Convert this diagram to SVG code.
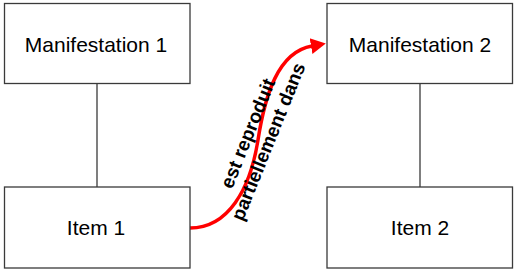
<svg xmlns="http://www.w3.org/2000/svg" width="516" height="273" viewBox="0 0 516 273">
<style>
.box{fill:#fff;stroke:#3a3a3a;stroke-width:1.3}
.lbl{font-family:"Liberation Sans",Arial,sans-serif;font-size:21px;fill:#000;text-anchor:middle}
.ln{stroke:#3a3a3a;stroke-width:1.3;fill:none}
.rel{stroke:#ff0000;stroke-width:3.5;fill:none}
.rl{font-family:"Liberation Sans",Arial,sans-serif;font-size:19px;font-weight:bold;fill:#000;text-anchor:middle}
</style>
<defs>
<marker id="ah" markerUnits="userSpaceOnUse" markerWidth="16" markerHeight="18" refX="1" refY="8" orient="auto" viewBox="0 0 16 16">
<path d="M0,0 L15,8 L0,16 z" fill="#ff0000"/>
</marker>
</defs>
<g id="connectors">
<line class="ln" x1="97" y1="83" x2="97" y2="187"/>
<line class="ln" x1="420" y1="83" x2="420" y2="187"/>
<path class="rel" d="M190,228 C228,228 250,190 258,140 C265,95 278,52 312,46" marker-end="url(#ah)"/>
<g transform="translate(258,137.5) rotate(-68)">
<text class="rl" x="0" y="-4.5">est reproduit</text>
<text class="rl" x="0" y="17.5">partiellement dans</text>
</g>
</g>
<g id="manif1"><rect class="box" x="4.5" y="3.5" width="185.5" height="80"/><text class="lbl" x="96" y="52">Manifestation 1</text></g>
<g id="manif2"><rect class="box" x="327" y="3.5" width="185.5" height="80"/><text class="lbl" x="420" y="52">Manifestation 2</text></g>
<g id="item1"><rect class="box" x="4.5" y="187" width="185.5" height="81"/><text class="lbl" x="96" y="235">Item 1</text></g>
<g id="item2"><rect class="box" x="327" y="187" width="185.5" height="81"/><text class="lbl" x="420" y="235">Item 2</text></g>
</svg>
